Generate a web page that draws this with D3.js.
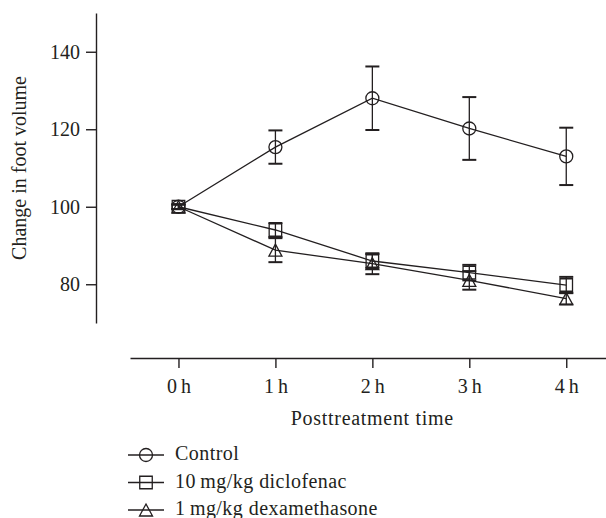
<!DOCTYPE html>
<html>
<head>
<meta charset="utf-8">
<title>Change in foot volume</title>
<style>
  body { margin: 0; background: #fff; }
  svg { display: block; }
  text { font-family: 'Liberation Serif', 'Times New Roman', serif; fill: #231f20; }
  .axis path, .axis line { stroke: #231f20; stroke-width: 1.4; }
  .series { fill: none; stroke: #231f20; stroke-width: 1.3; }
  .err { stroke: #231f20; stroke-width: 1.3; }
  .cap { stroke: #231f20; stroke-width: 2; }
  .marker { fill: none; stroke: #231f20; stroke-width: 1.3; }
</style>
</head>
<body>
<script src="https://d3js.org/d3.v7.min.js"></script>
<script>

// data
var times = [0, 1, 2, 3, 4];
var timeLabels = ["0\u2009h", "1\u2009h", "2\u2009h", "3\u2009h", "4\u2009h"];
var yTicks = [80, 100, 120, 140];

var seriesNames = ["Control", "10\u2009mg/kg diclofenac", "1\u2009mg/kg dexamethasone"];
var controlMean    = [100, 115.4, 128.0, 120.2, 113.0];
var controlErr     = [0.6, 4.3, 8.2, 8.1, 7.4];
var diclofenacMean = [100, 94.0, 86.0, 83.0, 79.8];
var diclofenacErr  = [0.6, 1.8, 1.8, 2.0, 2.1];
var dexaMean       = [100, 88.8, 85.3, 81.0, 76.3];
var dexaErr        = [0.6, 3.1, 2.7, 2.4, 1.5];

var width = 606, height = 518,
    fontSize = 20,
    capHalf = 7;

var svg = d3.select("body")
    .append("svg")
    .attr("width", width)
    .attr("height", height);

var x = d3.scaleLinear().domain([-0.5, 4.41]).range([130, 606]);
var y = d3.scaleLinear().domain([70, 150]).range([323, 13]);

var series = [
    { name: seriesNames[0], mean: controlMean, err: controlErr, shape: "circle" },
    { name: seriesNames[1], mean: diclofenacMean, err: diclofenacErr, shape: "square" },
    { name: seriesNames[2], mean: dexaMean, err: dexaErr, shape: "triangle" }
];

//axes
svg.append("g")
    .attr("class", "axis")
    .attr("transform", "translate(96,0)")
    .call(d3.axisLeft(y).tickValues(yTicks).tickSize(10).tickSizeOuter(0).tickPadding(6));

svg.append("g")
    .attr("class", "axis")
    .attr("transform", "translate(0,358)")
    .call(d3.axisBottom(x).tickValues(times).tickSize(10).tickSizeOuter(0).tickPadding(11)
        .tickFormat(function(d, i){ return timeLabels[i]; }));

svg.selectAll(".axis text")
    .style("font-family", "'Liberation Serif', serif")
    .style("font-size", fontSize + "px")
    .attr("fill", "#231f20");

svg.append("text")
    .attr("transform", "translate(26," + ((y.range()[0] + y.range()[1]) / 2) + ") rotate(-90)")
    .attr("text-anchor", "middle")
    .style("font-size", fontSize + "px")
    .text("Change in foot volume");

svg.append("text")
    .attr("x", x(2))
    .attr("y", 425)
    .attr("text-anchor", "middle")
    .style("font-size", fontSize + "px")
    .style("letter-spacing", "0.7px")
    .text("Posttreatment time");

//marker shapes
function markerPath(shape) {
    if (shape === "square") return "M-6.25,-6.25H6.25V6.25H-6.25Z";
    if (shape === "triangle") return "M0,-6L6.5,6H-6.5Z";
    return null;
}

function drawMarker(sel, shape) {
    if (shape === "circle") {
        sel.append("circle").attr("class", "marker").attr("r", 6.5);
    } else {
        sel.append("path").attr("class", "marker").attr("d", markerPath(shape));
    }
}

var line = d3.line()
    .x(function(d, i){ return x(times[i]); })
    .y(function(d){ return y(d); });

//lines
svg.selectAll(".series")
    .data(series)
    .enter()
    .append("path")
    .attr("class", "series")
    .attr("d", function(s){ return line(s.mean); });

//error bars and markers
series.forEach(function(s){
    var pts = s.mean.map(function(m, i){ return { t: times[i], m: m, e: s.err[i] }; });
    var g = svg.append("g");

    g.selectAll(".err")
        .data(pts)
        .enter()
        .append("line")
        .attr("class", "err")
        .attr("x1", function(d){ return x(d.t); })
        .attr("x2", function(d){ return x(d.t); })
        .attr("y1", function(d){ return y(d.m + d.e); })
        .attr("y2", function(d){ return y(d.m - d.e); });

    [1, -1].forEach(function(sign){
        g.selectAll(".cap" + sign)
            .data(pts)
            .enter()
            .append("line")
            .attr("class", "cap")
            .attr("x1", function(d){ return x(d.t) - capHalf; })
            .attr("x2", function(d){ return x(d.t) + capHalf; })
            .attr("y1", function(d){ return y(d.m + sign * d.e); })
            .attr("y2", function(d){ return y(d.m + sign * d.e); });
    });

    g.selectAll(".pt")
        .data(pts)
        .enter()
        .append("g")
        .attr("transform", function(d){ return "translate(" + x(d.t) + "," + y(d.m) + ")"; })
        .call(drawMarker, s.shape);
});

//legend
var legend = svg.selectAll(".legend")
    .data(series)
    .enter()
    .append("g")
    .attr("class", "legend")
    .attr("transform", function(d, i){ return "translate(146," + (455 + i * 27.5) + ")"; });

legend.append("line")
    .attr("class", "series")
    .attr("x1", -18)
    .attr("x2", 18);

legend.append("g").each(function(d){ drawMarker(d3.select(this), d.shape); });

legend.append("text")
    .attr("x", 29)
    .attr("y", 5)
    .style("font-size", fontSize + "px")
    .style("letter-spacing", "0.45px")
    .text(function(d){ return d.name; });

</script>
</body>
</html>
